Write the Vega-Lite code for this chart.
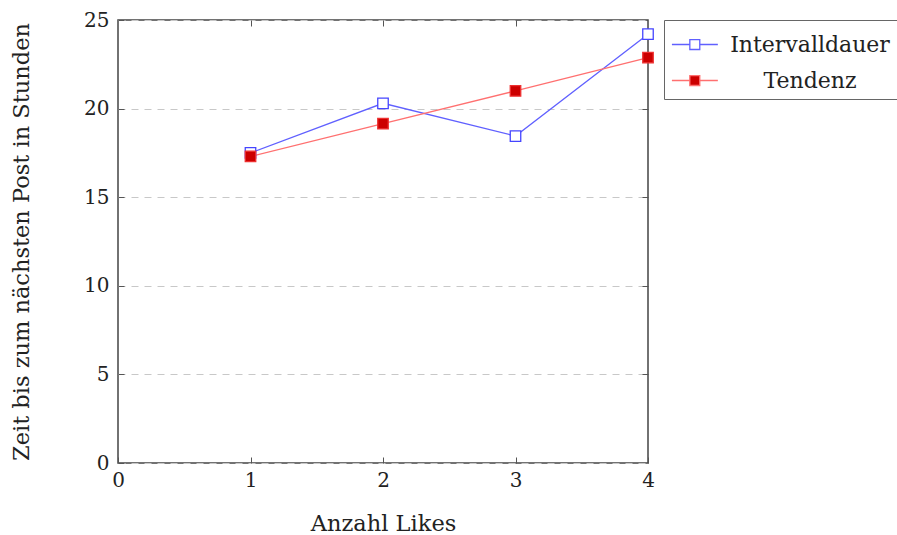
{
  "$schema": "https://vega.github.io/schema/vega-lite/v6.json",
  "width": 530,
  "height": 443,
  "autosize": {"type": "none"},
  "padding": {"left": 118, "top": 20, "right": 249, "bottom": 72},
  "background": "white",
  "config": {
    "font": "DejaVu Serif",
    "view": {"stroke": "#444444", "strokeWidth": 1.5},
    "axis": {
      "labelFont": "DejaVu Serif",
      "titleFont": "DejaVu Serif",
      "labelFontSize": 20,
      "titleFontSize": 22.5,
      "labelColor": "#222222",
      "titleColor": "#222222",
      "titleFontWeight": "normal",
      "domain": false,
      "labelFlush": false,
      "tickColor": "#555555",
      "tickSize": -6,
      "tickWidth": 1
    }
  },
  "data": {
    "values": [
      {"likes": 1, "zeit": 17.5, "serie": "Intervalldauer"},
      {"likes": 2, "zeit": 20.3, "serie": "Intervalldauer"},
      {"likes": 3, "zeit": 18.45, "serie": "Intervalldauer"},
      {"likes": 4, "zeit": 24.2, "serie": "Intervalldauer"},
      {"likes": 1, "zeit": 17.3, "serie": "Tendenz"},
      {"likes": 2, "zeit": 19.15, "serie": "Tendenz"},
      {"likes": 3, "zeit": 21.0, "serie": "Tendenz"},
      {"likes": 4, "zeit": 22.88, "serie": "Tendenz"}
    ]
  },
  "layer": [
    {
      "mark": {"type": "line", "strokeWidth": 1.3},
      "encoding": {
        "x": {
          "field": "likes", "type": "quantitative",
          "scale": {"domain": [0, 4], "nice": false},
          "axis": {"values": [0, 1, 2, 3, 4], "title": "Anzahl Likes", "grid": false, "labelPadding": 13, "titlePadding": 22, "format": "d"}
        },
        "y": {
          "field": "zeit", "type": "quantitative",
          "scale": {"domain": [0, 25], "nice": false},
          "axis": {"values": [0, 5, 10, 15, 20, 25], "title": "Zeit bis zum nächsten Post in Stunden", "grid": true, "gridColor": "#c8c8c8", "gridDash": [7, 6], "gridWidth": 1, "labelPadding": 15, "titlePadding": 50, "format": "d"}
        },
        "color": {
          "field": "serie", "type": "nominal",
          "scale": {"domain": ["Intervalldauer", "Tendenz"], "range": ["#6060ff", "#ff7070"]},
          "legend": {
            "title": null,
            "orient": "none",
            "legendX": 546,
            "legendY": 0,
            "strokeColor": "#666666",
            "fillColor": "white",
            "padding": 7,
            "rowPadding": 7,
            "symbolType": "M-1,0H0.08M0.68,0H1.77M0.08,-0.3H0.68V0.3H0.08Z",
            "symbolSize": 1100,
            "symbolStrokeWidth": 1.3,
            "labelFont": "DejaVu Serif",
            "labelFontSize": 22,
            "labelColor": "#222222",
            "labelAlign": "center",
            "labelOffset": 104,
            "labelLimit": 300,
            "encode": {
              "symbols": {"update": {"fill": {"signal": "datum.value === 'Tendenz' ? '#cc0000' : 'white'"}, "fillOpacity": {"value": 1}}}
            }
          }
        }
      }
    },
    {
      "mark": {"type": "point", "shape": "square", "filled": true, "size": 110, "strokeWidth": 1.3, "opacity": 1},
      "encoding": {
        "x": {"field": "likes", "type": "quantitative", "axis": null},
        "y": {"field": "zeit", "type": "quantitative", "axis": null},
        "fill": {"field": "serie", "type": "nominal", "scale": {"domain": ["Intervalldauer", "Tendenz"], "range": ["white", "#cc0000"]}, "legend": null},
        "stroke": {"field": "serie", "type": "nominal", "scale": {"domain": ["Intervalldauer", "Tendenz"], "range": ["#4545ff", "#ee3030"]}, "legend": null}
      }
    },
    {
      "mark": {"type": "point", "opacity": 0},
      "encoding": {
        "x": {"field": "likes", "type": "quantitative", "axis": {"orient": "top", "values": [1, 2, 3], "labels": false, "title": null, "grid": false}},
        "y": {"field": "zeit", "type": "quantitative", "axis": {"orient": "right", "values": [5, 10, 15, 20], "labels": false, "title": null, "grid": false}}
      }
    }
  ],
  "resolve": {"axis": {"x": "independent", "y": "independent"}, "scale": {"fill": "independent", "stroke": "independent"}}
}
